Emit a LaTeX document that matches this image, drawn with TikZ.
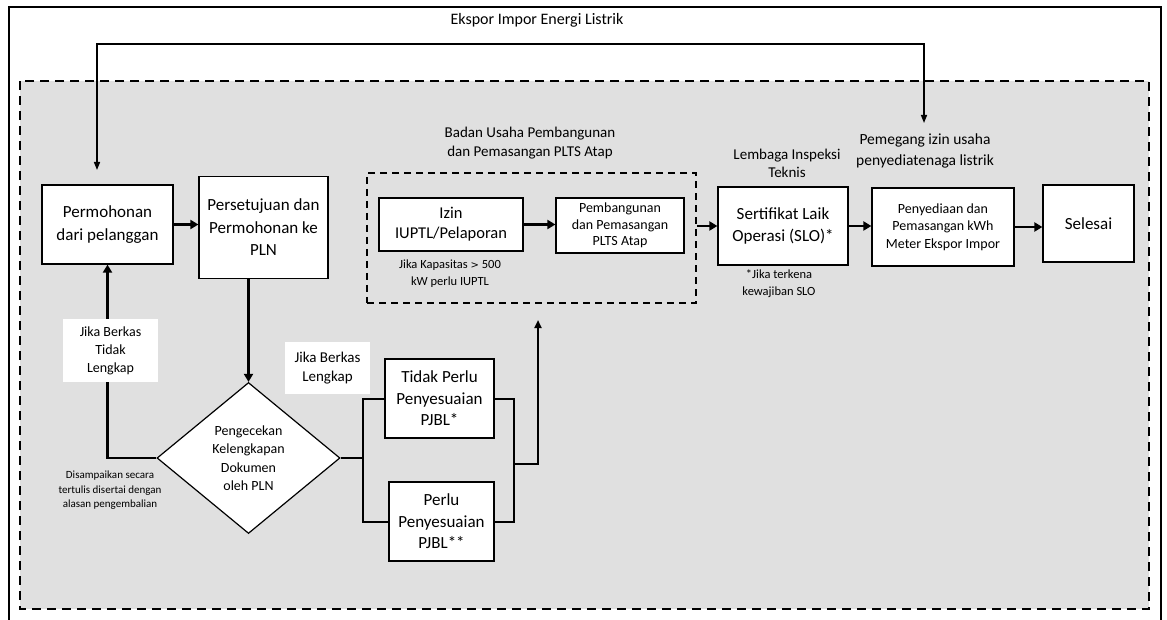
\documentclass[tikz,border=0pt]{standalone}
\usepackage{fontspec}
\setmainfont{Carlito}
\usetikzlibrary{arrows.meta,shapes.geometric}
\definecolor{bggray}{RGB}{224,224,224}
\begin{document}
\begin{tikzpicture}[x=1pt,y=-1pt,
  box/.style={draw=black, line width=1.2pt, fill=white, align=center, inner sep=1pt},
  bigtxt/.style={font=\fontsize{17}{22.5}\selectfont},
  midtxt/.style={font=\fontsize{14}{17.5}\selectfont},
  lbltxt/.style={font=\fontsize{15}{18.5}\selectfont, align=center, inner sep=1pt},
  smalltxt/.style={font=\fontsize{12.5}{17}\selectfont, align=center, inner sep=1pt},
  tinytxt/.style={font=\fontsize{11}{14.5}\selectfont, align=center, inner sep=1pt},
  whitelbl/.style={fill=white, align=center, inner sep=0pt},
  arr/.style={line width=2.6pt, -{Triangle[length=8pt,width=9pt]}},
  thinarr/.style={line width=1.5pt},
  branch/.style={line width=2pt},
  outerdash/.style={line width=2.6pt, dash pattern=on 9pt off 6pt},
  innerdash/.style={line width=1.8pt, dash pattern=on 7pt off 5pt}
]
\path[use as bounding box] (0,0) rectangle (1167,620);
% outer frame
\draw[line width=2pt] (9,625) -- (9,7) -- (1161,7) -- (1161,625);
% grey dashed region
\draw[outerdash, fill=bggray] (20,81) rectangle (1149,609);

\node[font=\fontsize{16}{19}\selectfont] (title) at (537,20) {Ekspor Impor Energi Listrik};

% inner dashed group
\node[draw, innerdash, minimum width=329pt, minimum height=130pt, inner sep=0pt] (badan) at (531.5,238) {};
\node[lbltxt] (badanlbl) at (530,143) {Badan Usaha Pembangunan\\dan Pemasangan PLTS Atap};

% boxes
\node[box, bigtxt, minimum width=131pt, minimum height=79pt] (perm) at (107.5,224.5) {Permohonan\\dari pelanggan};
\node[box, bigtxt, minimum width=129pt, minimum height=102pt] (pers) at (263.5,227.5) {Persetujuan dan\\Permohonan ke\\PLN};
\node[box, bigtxt, font=\fontsize{16.5}{20}\selectfont, minimum width=144pt, minimum height=53pt] (izin) at (451,224.5) {Izin\\IUPTL/Pelaporan};
\node[box, midtxt, font=\fontsize{14}{16.5}\selectfont, minimum width=128pt, minimum height=55pt] (pemb) at (620,225.5) {Pembangunan\\dan Pemasangan\\PLTS Atap};
\node[smalltxt] (kap) at (450,273.5) {Jika Kapasitas {\fontspec{DejaVu Sans}\fontsize{10}{12}\selectfont >} 500\\kW perlu IUPTL};

\node[box, bigtxt, minimum width=130pt, minimum height=78pt] (sert) at (783,226) {Sertifikat Laik\\Operasi (SLO)*};
\node[lbltxt] (lem) at (787,163.5) {Lembaga Inspeksi\\Teknis};
\node[smalltxt] (slo) at (779,283.5) {*Jika terkena\\kewajiban SLO};

\node[box, midtxt, font=\fontsize{14}{17.5}\selectfont, minimum width=142pt, minimum height=78pt] (peny) at (943,227) {Penyediaan dan\\Pemasangan kWh\\Meter Ekspor Impor};
\node[lbltxt, font=\fontsize{15.5}{21}\selectfont] (peg) at (925,151) {Pemegang izin usaha\\penyediatenaga listrik};

\node[box, bigtxt, minimum width=91pt, minimum height=77pt] (sel) at (1088.5,223.5) {Selesai};

\node[diamond, draw=black, line width=1.2pt, fill=white, align=center, inner sep=0pt,
      minimum width=183pt, minimum height=151pt, font=\fontsize{14}{18.5}\selectfont] (dia) at (248.5,458) {Pengecekan\\Kelengkapan\\Dokumen\\oleh PLN};
\node[tinytxt] (dis) at (110,490.5) {Disampaikan secara\\tertulis disertai dengan\\alasan pengembalian};

\node[box, bigtxt, font=\fontsize{17}{21.5}\selectfont, minimum width=109pt, minimum height=79pt] (tidak) at (439.5,398.5) {Tidak Perlu\\Penyesuaian\\PJBL*};
\node[box, bigtxt, font=\fontsize{17}{21.5}\selectfont, minimum width=105pt, minimum height=79pt] (perlu) at (441.5,521.5) {Perlu\\Penyesuaian\\PJBL**};

% coordinates
\coordinate (tl) at (97,170);
\coordinate (tr) at (924,123);
\coordinate (bl) at (363,458);
\coordinate (br) at (514,464);
\coordinate (uptip) at (538,320);

% connectors
\draw[thinarr, {Triangle[length=8pt,width=6pt]}-{Triangle[length=8pt,width=6pt]}] (tl) -- ++(0,-126) -| (tr);
\draw[arr] (perm.east) -- (perm.east -| pers.west);
\draw[arr] (izin.east) -- (izin.east -| pemb.west);
\draw[arr] (badan.east |- sert.west) -- (sert.west);
\draw[arr] (sert.east) -- (sert.east -| peny.west);
\draw[arr] (peny.east) -- (peny.east -| sel.west);
\draw[arr] (dia.north |- pers.south) -- (dia.north);
\draw[arr] (dia.west) -| (perm.south);
\draw[branch] (dia.east) -- (bl);
\draw[branch] (tidak.west) -| (bl) |- (perlu.west);
\draw[branch] (tidak.east) -| (br) |- (perlu.east);
\draw[branch, -{Triangle[length=8pt,width=7pt]}] (br) -| (uptip);

% labels with white background (on top of connectors)
\node[whitelbl, minimum width=95pt, minimum height=63pt, font=\fontsize{14}{18}\selectfont] (jbtl) at (110.5,350.5) {Jika Berkas\\Tidak\\Lengkap};
\node[whitelbl, minimum width=85pt, minimum height=52pt, font=\fontsize{15}{19}\selectfont] (jbl) at (327.5,368) {Jika Berkas\\Lengkap};
\end{tikzpicture}
\end{document}
